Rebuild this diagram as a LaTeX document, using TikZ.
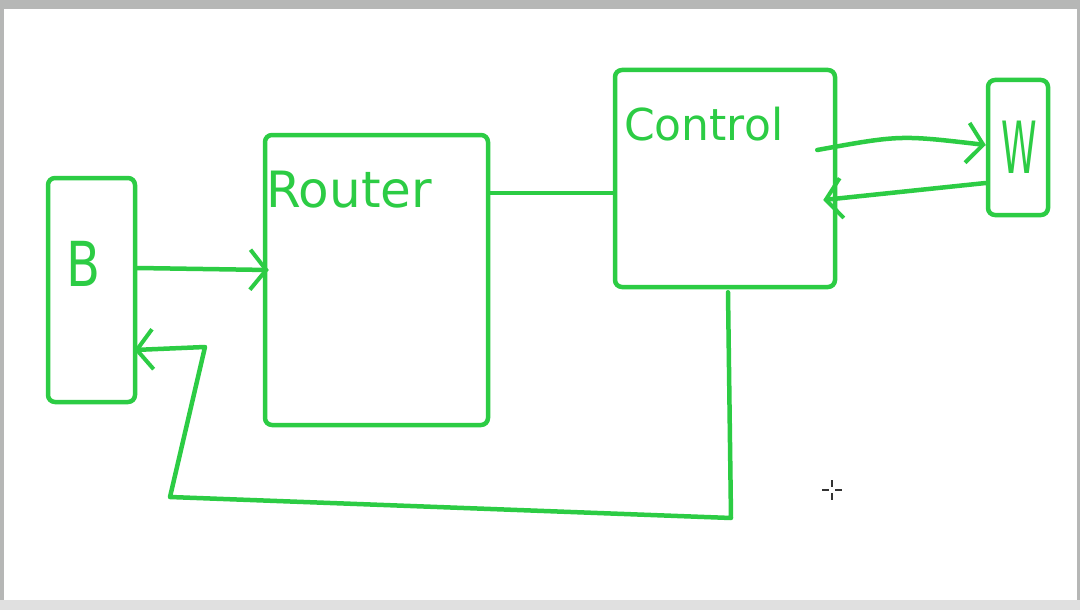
\documentclass[tikz,border=0pt]{standalone}
\usepackage{fontspec}
\setmainfont{DejaVu Sans}
\usetikzlibrary{arrows.meta}
\definecolor{pen}{RGB}{44,204,68}
\definecolor{frame}{RGB}{182,183,182}
\definecolor{framelow}{RGB}{224,224,224}
\tikzset{
  sketchbox/.style={draw=pen, line width=4.5pt, rounded corners=7pt,
    inner sep=0pt, minimum width=#1},
  conn/.style={draw=pen, line width=4.5pt, line cap=round, line join=round},
  arr/.style={conn, -{Straight Barb[length=16pt,width=40pt,line width=4pt]}},
  lbl/.style={text=pen, inner sep=0pt}
}
\begin{document}
\begin{tikzpicture}[x=1pt,y=-1pt]
\useasboundingbox (0,0) rectangle (1080,610);
% screenshot frame
\fill[frame] (0,0) rectangle (1080,610);
\fill[framelow] (0,600) rectangle (1080,610);
\fill[white] (4,9) rectangle (1077,600);
% boxes
\node[sketchbox=87pt, minimum height=224pt] (B) at (91.5,290) {};
\node[sketchbox=223pt, minimum height=290pt] (Router) at (376.5,280) {};
\node[sketchbox=220pt, minimum height=217pt] (Control) at (725,178.5) {};
\node[sketchbox=60pt, minimum height=135pt] (W) at (1018,147.5) {};
% labels
\node[lbl, font=\fontsize{62}{62}\selectfont, xscale=0.8] (lB) at (84,264) {B};
\node[lbl, font=\fontsize{50}{50}\selectfont, anchor=west] (lR) at (266,190) {Router};
\node[lbl, font=\fontsize{44}{44}\selectfont, anchor=west] (lC) at (624,124) {Control};
\node[lbl, font=\fontsize{72}{72}\selectfont, xscale=0.5] (lW) at (1019,147) {W};
% connectors
\draw[arr] ([yshift=22pt]B.east) -- ([yshift=10pt,xshift=6pt]Router.west);
\draw[conn] ([yshift=87pt]Router.east) -- ([yshift=-14.5pt]Control.west);
\draw[arr] ([yshift=28.5pt,xshift=-20pt]Control.east) .. controls (900,135) .. ([yshift=2.5pt]W.west);
\draw[arr] ([yshift=-35.5pt]W.west) -- ([yshift=-21.5pt,xshift=-14pt]Control.east);
\coordinate (c1) at (731,518);
\coordinate (c2) at (170,497);
\coordinate (c3) at (205,347);
\draw[arr] ([xshift=3pt,yshift=-3pt]Control.south) -- (c1) -- (c2) -- (c3) -- ([yshift=-60pt,xshift=-3pt]B.east);
% mouse cursor
\draw[black!80, line width=1.3pt] (822,490) -- (829,490) (835,490) -- (842,490)
  (832,480) -- (832,487) (832,493) -- (832,500);
\end{tikzpicture}
\end{document}
